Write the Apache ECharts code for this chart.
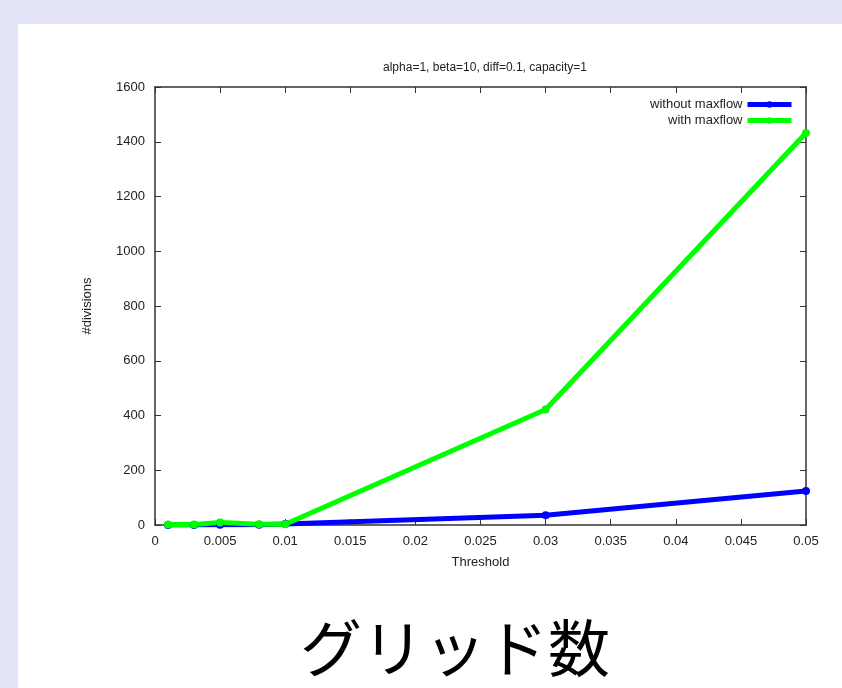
<!DOCTYPE html>
<html>
<head>
<meta charset="utf-8">
<script src="https://cdn.jsdelivr.net/npm/echarts@6/dist/echarts.min.js"></script>
<style>
  html, body { margin: 0; padding: 0; background: #e4e4f8; }
  #chart { width: 842px; height: 688px; }
</style>
</head>
<body>
<div id="chart"></div>
<script>
// Number of grid divisions versus threshold, with and without maxflow
const thresholds = [0.001, 0.003, 0.005, 0.008, 0.01, 0.03, 0.05];
const withoutMaxflow = [0, 0, 1, 1, 4, 36, 124];
const withMaxflow = [2, 2, 9, 3, 3, 422, 1432];
const seriesNames = ['without maxflow', 'with maxflow'];
const plotTitle = 'alpha=1, beta=10, diff=0.1, capacity=1';
const pageTitle = 'グリッド数';
const xName = 'Threshold';
const yName = '#divisions';

const pairs = (xs, ys) => xs.map((x, i) => [x, ys[i]]);
const labelFont = { fontFamily: 'Liberation Sans', fontSize: 13, color: '#222' };
const frameLine = { show: true, onZero: false, lineStyle: { color: '#333', width: 1.5 } };
const innerTick = { show: true, inside: true, length: 6, lineStyle: { color: '#333', width: 1 } };

const xBase = { type: 'value', min: 0, max: 0.05, interval: 0.005, splitLine: { show: false },
  axisLine: frameLine, axisTick: innerTick };
const yBase = { type: 'value', min: 0, max: 1600, interval: 200, splitLine: { show: false },
  axisLine: frameLine, axisTick: innerTick };

const chart = echarts.init(document.getElementById('chart'));
chart.setOption({
  animation: false,
  backgroundColor: 'transparent',
  graphic: [{
    type: 'rect', z: -10, silent: true,
    shape: { x: 18, y: 24, width: 842 - 18, height: 688 - 24 },
    style: { fill: '#ffffff' }
  }],
  title: [
    { text: plotTitle, left: 480, top: 57, textAlign: 'center',
      textStyle: { fontFamily: 'Liberation Sans', fontSize: 12, fontWeight: 'normal', color: '#222' } },
    { text: pageTitle, left: 450, top: 612, textAlign: 'center',
      textStyle: { fontFamily: 'Noto Sans CJK JP', fontSize: 62, fontWeight: 'normal', color: '#000' } }
  ],
  legend: {
    orient: 'vertical', right: 43, top: 93, align: 'right', itemGap: 3,
    itemWidth: 44, itemHeight: 8,
    lineStyle: { width: 5 },
    textStyle: { fontFamily: 'Liberation Sans', fontSize: 13, color: '#222' },
    data: seriesNames
  },
  grid: { left: 155, right: 36, top: 87, bottom: 163, containLabel: false },
  xAxis: [
    Object.assign({}, xBase, {
      position: 'bottom', name: xName, nameLocation: 'middle', nameGap: 31,
      nameTextStyle: labelFont,
      axisLabel: Object.assign({ margin: 10, formatter: v => String(+v.toFixed(3)) }, labelFont)
    }),
    Object.assign({}, xBase, { position: 'top', axisLabel: { show: false } })
  ],
  yAxis: [
    Object.assign({}, yBase, {
      position: 'left', name: yName, nameLocation: 'middle', nameGap: 61,
      nameTextStyle: labelFont,
      axisLabel: Object.assign({ margin: 10, formatter: v => String(v) }, labelFont)
    }),
    Object.assign({}, yBase, { position: 'right', axisLabel: { show: false } })
  ],
  series: [
    { name: seriesNames[0], type: 'line', data: pairs(thresholds, withoutMaxflow),
      color: '#0000ff', symbol: 'circle', symbolSize: 8,
      lineStyle: { width: 5, color: '#0000ff' }, itemStyle: { color: '#0000ff' } },
    { name: seriesNames[1], type: 'line', data: pairs(thresholds, withMaxflow),
      color: '#00ff00', symbol: 'circle', symbolSize: 8,
      lineStyle: { width: 5, color: '#00ff00' }, itemStyle: { color: '#00ff00' } }
  ]
});
</script>
</body>
</html>
